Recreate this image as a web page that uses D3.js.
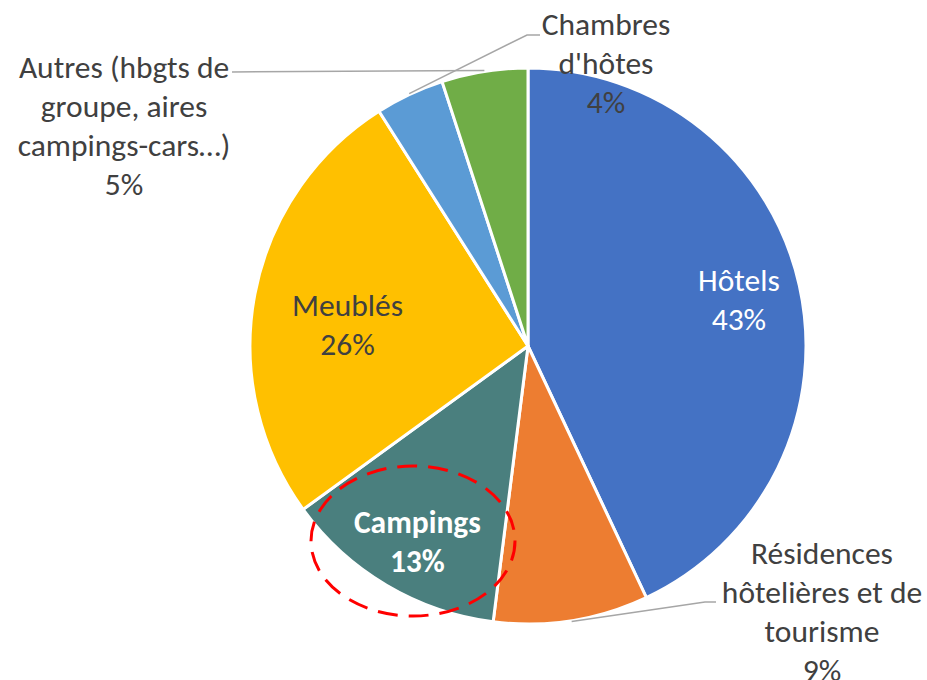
<!DOCTYPE html>
<meta charset="utf-8">
<script src="https://d3js.org/d3.v7.min.js"></script>
<style>
  body { margin: 0; background: #fff; }
  text { font-family: Carlito, Calibri, "Open Sans", sans-serif; }
</style>
<div id="chart"></div>
<script>
// data
var categories = ["Hôtels", "Résidences hôtelières et de tourisme", "Campings", "Meublés", "Chambres d'hôtes", "Autres (hbgts de groupe, aires campings-cars…)"];
var values = [43, 9, 13, 26, 4, 5];
var colors = ["#4472C4", "#ED7D31", "#4A7F7E", "#FFC000", "#5B9BD5", "#70AD47"];

// how each label is written and where it sits
var labelLines = [
  ["Hôtels"],
  ["Résidences", "hôtelières et de", "tourisme"],
  ["Campings"],
  ["Meublés"],
  ["Chambres", "d'hôtes"],
  ["Autres (hbgts de", "groupe, aires", "campings-cars…)"]
];
var labelLayout = [
  {inside: true, rf: 0.77, fill: "#fff", weight: 400, dx: 2, dy: 0},
  {inside: false, x: 822, y: 553, elbow: [705, 602], end: [716, 602]},
  {inside: true, rf: 0.81, fill: "#fff", weight: 700, dx: 4, dy: 2},
  {inside: true, rf: 0.65, fill: "#404040", weight: 400, dx: -3, dy: 12},
  {inside: false, x: 606, y: 24, elbow: [527, 35], end: [540, 35]},
  {inside: false, x: 124, y: 67, elbow: [232, 72], end: [232, 72]}
];

var width = 927, height = 680;
var cx = 528, cy = 346, radius = 278;
var lineH = 39, fontSize = 31.5;

var svg = d3.select("#chart").append("svg")
  .attr("width", width)
  .attr("height", height);

var g = svg.append("g").attr("transform", "translate(" + cx + "," + cy + ")");

var pie = d3.pie().sort(null).value(function(d) { return d; });
var arcs = pie(values);
var arc = d3.arc().innerRadius(0).outerRadius(radius);

g.selectAll("path.slice")
  .data(arcs)
  .enter().append("path")
  .attr("class", "slice")
  .attr("d", arc)
  .attr("fill", function(d, i) { return colors[i]; })
  .attr("stroke", "#fff")
  .attr("stroke-width", 3)
  .attr("stroke-linejoin", "round");

function polar(a, r) { return [r * Math.sin(a), -r * Math.cos(a)]; }

arcs.forEach(function(d, i) {
  var L = labelLayout[i];
  var mid = (d.startAngle + d.endAngle) / 2;
  var lines = labelLines[i].concat([values[i] + "%"]);
  var x, y, fill = L.fill || "#404040", weight = L.weight || 400;

  if (L.inside) {
    var p = polar(mid, radius * L.rf);
    x = cx + p[0] + L.dx;
    y = cy + p[1] - lineH / 2 + L.dy;
  } else {
    x = L.x; y = L.y;
    // leader line from the slice edge
    var s = polar(mid, radius + 1);
    var pts = [[cx + s[0], cy + s[1]], L.elbow, L.end];
    svg.append("path")
      .attr("d", d3.line()(pts))
      .attr("fill", "none")
      .attr("stroke", "#A6A6A6")
      .attr("stroke-width", 1.5);
  }

  var t = svg.append("text")
    .attr("text-anchor", "middle")
    .attr("fill", fill)
    .attr("font-weight", weight)
    .attr("font-size", fontSize);
  lines.forEach(function(s, k) {
    t.append("tspan")
      .attr("x", x)
      .attr("y", y + k * lineH)
      .attr("dy", "0.35em")
      .text(s);
  });
});

// red dashed highlight around the Campings slice
svg.append("ellipse")
  .attr("cx", 413)
  .attr("cy", 541)
  .attr("rx", 102)
  .attr("ry", 75)
  .attr("fill", "none")
  .attr("stroke", "#FF0000")
  .attr("stroke-width", 3)
  .attr("stroke-dasharray", "20,11");
</script>
